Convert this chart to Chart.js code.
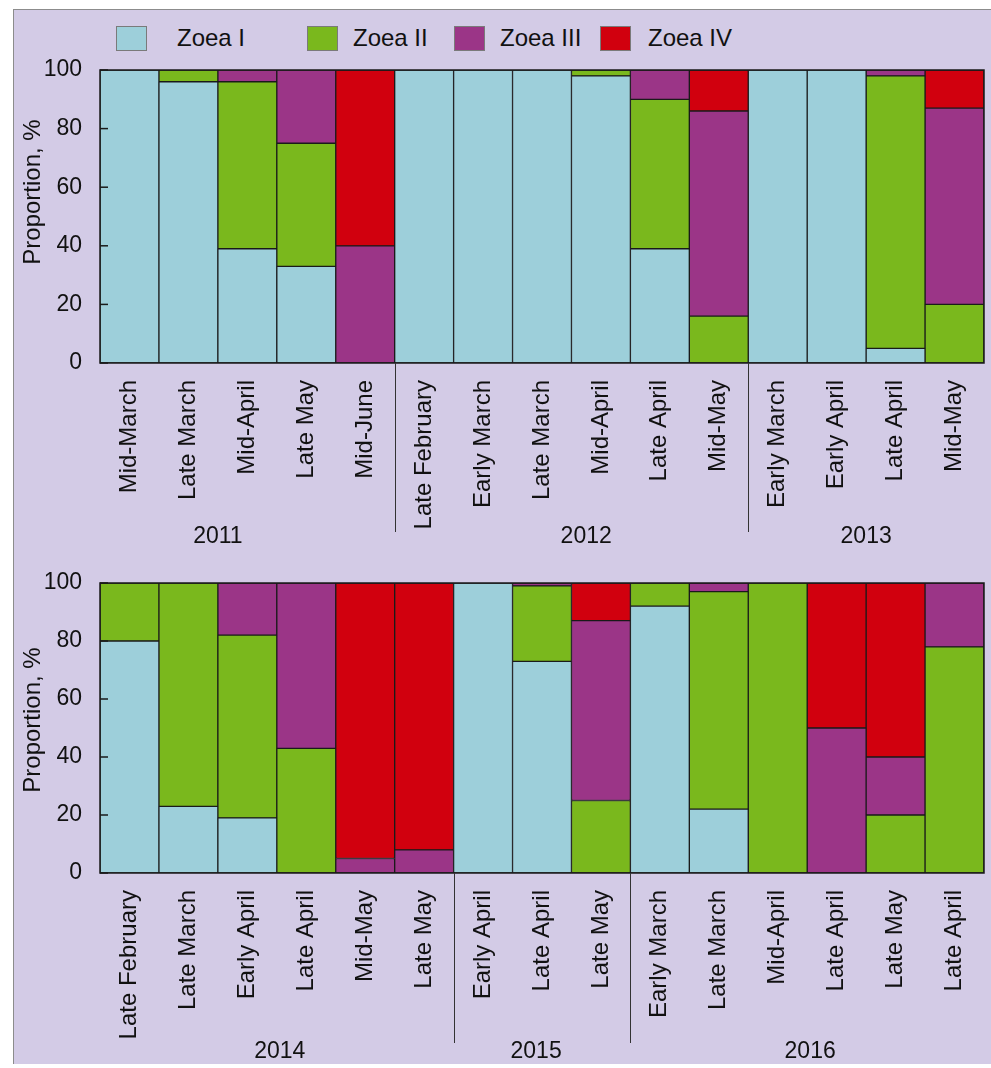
<!DOCTYPE html>
<html>
<head>
<meta charset="utf-8">
<title>Zoea stage composition</title>
<script src="https://cdn.jsdelivr.net/npm/chart.js@4.4.1/dist/chart.umd.min.js"></script>
<style>
  html, body { margin: 0; padding: 0; background: #ffffff; }
  body { width: 991px; height: 1068px; position: relative; overflow: hidden;
         font-family: "Liberation Sans", Arial, Helvetica, sans-serif; }
  #panel { position: absolute; left: 13px; top: 9px; width: 978px; height: 1055px;
           background: #d3cbe6; border-top: 1px solid #8c8c8c; border-left: 1px solid #8c8c8c;
           box-sizing: border-box; }
  canvas { position: absolute; left: 0; }
  #topChart { top: 0; }
  #bottomChart { top: 510px; }
  .lg-box { position: absolute; top: 26px; width: 29px; height: 23px; border: 1px solid #7a7a7a; }
  .lg-text { position: absolute; top: 24px; font-size: 24px; line-height: 28px; color: #111; white-space: nowrap; }
</style>
</head>
<body>
<div id="panel"></div>
<div id="legend"></div>
<canvas id="topChart" width="991" height="560"></canvas>
<canvas id="bottomChart" width="991" height="558"></canvas>
<script>
// Larval stages and their fill colours
const seriesNames  = ['Zoea I', 'Zoea II', 'Zoea III', 'Zoea IV'];
const seriesColors = ['#9dcfda', '#7ab81d', '#9b3587', '#d1000e'];

// Upper panel: 2011–2013 sampling periods
const topCategories = ['Mid-March', 'Late March', 'Mid-April', 'Late May', 'Mid-June',
  'Late February', 'Early March', 'Late March', 'Mid-April', 'Late April', 'Mid-May',
  'Early March', 'Early April', 'Late April', 'Mid-May'];
const topYears     = ['2011', '2012', '2013'];
const topYearSizes = [5, 6, 4];
const topZoeaI   = [100, 96, 39, 33, 0, 100, 100, 100, 98, 39, 0, 100, 100, 5, 0];
const topZoeaII  = [0, 4, 57, 42, 0, 0, 0, 0, 2, 51, 16, 0, 0, 93, 20];
const topZoeaIII = [0, 0, 4, 25, 40, 0, 0, 0, 0, 10, 70, 0, 0, 2, 67];
const topZoeaIV  = [0, 0, 0, 0, 60, 0, 0, 0, 0, 0, 14, 0, 0, 0, 13];

// Lower panel: 2014–2016 sampling periods
const bottomCategories = ['Late February', 'Late March', 'Early April', 'Late April', 'Mid-May', 'Late May',
  'Early April', 'Late April', 'Late May',
  'Early March', 'Late March', 'Mid-April', 'Late April', 'Late May', 'Late April'];
const bottomYears     = ['2014', '2015', '2016'];
const bottomYearSizes = [6, 3, 6];
const bottomZoeaI   = [80, 23, 19, 0, 0, 0, 100, 73, 0, 92, 22, 0, 0, 0, 0];
const bottomZoeaII  = [20, 77, 63, 43, 0, 0, 0, 26, 25, 8, 75, 100, 0, 20, 78];
const bottomZoeaIII = [0, 0, 18, 57, 5, 8, 0, 1, 62, 0, 3, 0, 50, 20, 22];
const bottomZoeaIV  = [0, 0, 0, 0, 95, 92, 0, 0, 13, 0, 0, 0, 50, 60, 0];

// Value-axis ticks
const yTickValues = [0, 20, 40, 60, 80, 100];

const FONT = '"Liberation Sans", Arial, Helvetica, sans-serif';
const INK = '#111111';
const EDGE = '#1a1a1a';

// Legend
(function buildLegend() {
  const boxX = [116, 307, 454, 600];
  const textX = [177, 353, 500, 648];
  const host = document.getElementById('legend');
  seriesNames.forEach((name, i) => {
    const b = document.createElement('div');
    b.className = 'lg-box';
    b.style.left = boxX[i] + 'px';
    b.style.background = seriesColors[i];
    host.appendChild(b);
    const t = document.createElement('div');
    t.className = 'lg-text';
    t.style.left = textX[i] + 'px';
    t.textContent = name;
    host.appendChild(t);
  });
})();

// Frame, inward ticks, year separators, year labels and axis title
const panelDecor = {
  id: 'panelDecor',
  afterDatasetsDraw(chart, args, opts) {
    const { ctx, chartArea: ca, scales: { x, y } } = chart;
    ctx.save();
    ctx.strokeStyle = EDGE;
    ctx.lineWidth = 1.5;
    yTickValues.forEach(v => {
      const py = y.getPixelForValue(v);
      ctx.beginPath();
      ctx.moveTo(ca.left, py);
      ctx.lineTo(ca.left + 8, py);
      ctx.stroke();
    });
    ctx.strokeRect(ca.left, ca.top, ca.right - ca.left, ca.bottom - ca.top);

    ctx.lineWidth = 1;
    ctx.strokeStyle = '#333333';
    let idx = 0;
    opts.groupSizes.slice(0, -1).forEach(sz => {
      idx += sz;
      const px = Math.round((x.getPixelForValue(idx - 1) + x.getPixelForValue(idx)) / 2) + 0.5;
      ctx.beginPath();
      ctx.moveTo(px, ca.bottom);
      ctx.lineTo(px, opts.sepBottom);
      ctx.stroke();
    });

    ctx.fillStyle = INK;
    ctx.font = '23px ' + FONT;
    ctx.textAlign = 'center';
    ctx.textBaseline = 'middle';
    opts.years.forEach((yr, i) => {
      ctx.fillText(yr, x.getPixelForValue(opts.yearAt[i]), opts.yearY);
    });

    ctx.font = '24px ' + FONT;
    ctx.translate(opts.titleX, opts.titleY);
    ctx.rotate(-Math.PI / 2);
    ctx.fillText('Proportion, %', 0, 0);
    ctx.restore();
  }
};

function makeChart(id, labels, series, decor, padTop, xHeight) {
  return new Chart(document.getElementById(id), {
    type: 'bar',
    data: {
      labels: labels,
      datasets: series.map((d, i) => ({
        label: seriesNames[i],
        data: d,
        backgroundColor: seriesColors[i],
        borderColor: EDGE,
        borderWidth: 1,
        borderSkipped: false,
        barPercentage: 1,
        categoryPercentage: 1
      }))
    },
    options: {
      responsive: false,
      animation: false,
      devicePixelRatio: 1,
      layout: { padding: { top: padTop, right: 7, left: 0, bottom: 0 } },
      plugins: {
        legend: { display: false },
        tooltip: { enabled: false },
        panelDecor: decor
      },
      scales: {
        x: {
          stacked: true,
          grid: { display: false, drawTicks: false },
          border: { display: false },
          ticks: {
            autoSkip: false, minRotation: 90, maxRotation: 90, padding: 17,
            color: INK, font: { size: 24, family: FONT }
          },
          afterFit(s) { s.height = xHeight; s.paddingLeft = 0; s.paddingRight = 0; }
        },
        y: {
          stacked: true,
          min: 0, max: 100,
          grid: { display: false, drawTicks: false },
          border: { display: false },
          afterBuildTicks(s) { s.ticks = yTickValues.map(v => ({ value: v })); },
          ticks: { padding: 18, color: INK, font: { size: 23, family: FONT } },
          afterFit(s) { s.width = 100; s.paddingTop = 0; s.paddingBottom = 0; }
        }
      }
    },
    plugins: [panelDecor]
  });
}

makeChart('topChart', topCategories, [topZoeaI, topZoeaII, topZoeaIII, topZoeaIV], {
  groupSizes: topYearSizes, years: topYears, yearAt: [1.5, 7.75, 12.5],
  yearY: 537, sepBottom: 532, titleX: 33, titleY: 192
}, 70, 197);

makeChart('bottomChart', bottomCategories, [bottomZoeaI, bottomZoeaII, bottomZoeaIII, bottomZoeaIV], {
  groupSizes: bottomYearSizes, years: bottomYears, yearAt: [2.55, 6.9, 11.55],
  yearY: 542, sepBottom: 533, titleX: 33, titleY: 210
}, 73, 195);
</script>
</body>
</html>
